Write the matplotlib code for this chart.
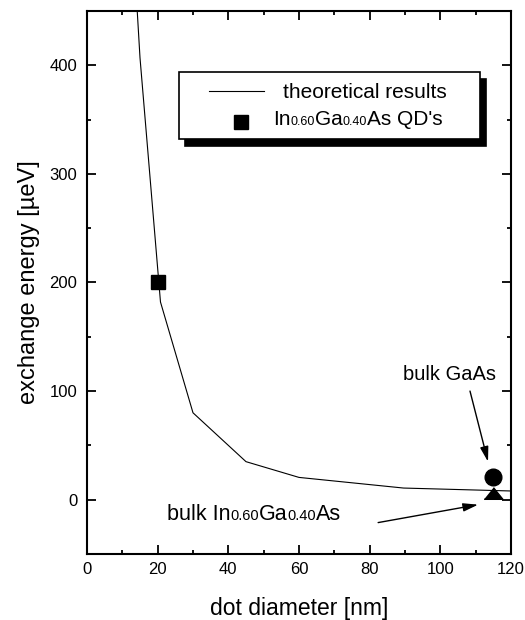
import matplotlib
matplotlib.use("Agg")
from matplotlib import pyplot as plt
from matplotlib.patches import Rectangle
from matplotlib.transforms import offset_copy

plt.rcParams['font.family'] = ['Liberation Sans', 'DejaVu Sans']

# theoretical curve (dot diameter in nm, exchange energy in ueV)
theory_d = [14, 15, 20.8, 30, 45, 60, 89.6, 120]
theory_e = [462, 407, 182, 80, 35, 20.5, 10.7, 8]

# measured In0.60Ga0.40As quantum dots
qd_d = [20]
qd_e = [200]

# bulk reference values
gaas_d = [115]
gaas_e = [20.8]
ingaas_d = [115]
ingaas_e = [6]

x_ticks = [0, 20, 40, 60, 80, 100, 120]
y_ticks = [0, 100, 200, 300, 400]


def rich_text(ax, x, y, parts, transform, zorder=7):
    """ Draw text pieces of different sizes side by side on one baseline. """
    fig = ax.figure
    renderer = fig.canvas.get_renderer()
    dx = 0
    for s, size in parts:
        t = ax.text(x, y, s, fontsize=size, ha='left', va='baseline', zorder=zorder,
                    transform=offset_copy(transform, fig=fig, x=dx, y=0, units='dots'))
        dx += t.get_window_extent(renderer).width


fig = plt.figure(figsize=(5.25, 6.2), dpi=100)
ax = fig.add_axes([0.1657, 0.1065, 0.8076, 0.8758])

ax.plot(theory_d, theory_e, color='black', lw=0.8, zorder=3)
ax.plot(qd_d, qd_e, 'ks', ms=10, zorder=4)
ax.plot(gaas_d, gaas_e, 'ko', ms=12, zorder=4)
ax.plot(ingaas_d, ingaas_e, color='black', ls='none', ms=13.5,
        marker=[(-1, -0.62), (1, -0.62), (0, 0.62)], zorder=4)

ax.set_xlim(0, 120)
ax.set_ylim(-50, 450)
ax.set_xticks(x_ticks)
ax.set_yticks(y_ticks)
ax.set_xticks(range(10, 120, 20), minor=True)
ax.set_yticks(range(-50, 451, 100), minor=True)
ax.tick_params(which='both', direction='in', top=True, right=True, width=1.3)
ax.tick_params(which='major', length=6.5, labelsize=12)
ax.tick_params(which='minor', length=3.2)
ax.tick_params(axis='x', pad=5.5)
ax.tick_params(axis='y', pad=7)
for sp in ax.spines.values():
    sp.set_linewidth(1.5)

ax.set_xlabel('dot diameter [nm]', fontsize=16.5)
ax.set_ylabel('exchange energy [\u00b5eV]', fontsize=17)
ax.xaxis.set_label_coords(0.501, -0.079)
ax.yaxis.set_label_coords(-0.11, 0.5)

# legend box with black drop shadow
shadow = Rectangle((0.217, 0.764), 0.71, 0.124, fc='black', ec='black', lw=1.2,
                   transform=offset_copy(ax.transAxes, fig=fig, x=6, y=-7, units='dots'),
                   zorder=5)
box = Rectangle((0.217, 0.764), 0.71, 0.124, fc='white', ec='black', lw=1.2,
                transform=ax.transAxes, zorder=6)
ax.add_patch(shadow)
ax.add_patch(box)
ax.plot([0.288, 0.417], [0.853, 0.853], color='black', lw=0.8,
        transform=ax.transAxes, zorder=7)
ax.plot([0.363], [0.796], 'ks', ms=10, transform=ax.transAxes, zorder=7)
ax.text(0.462, 0.840, 'theoretical results', fontsize=15, ha='left', va='baseline',
        transform=ax.transAxes, zorder=7)
rich_text(ax, 0.439, 0.790, [('In', 15), ('0.60', 9), ('Ga', 15), ('0.40', 9),
                             ('As QD\'s', 15)], ax.transAxes)

# annotations for bulk values
arrow = dict(arrowstyle='-|>, head_length=0.9, head_width=0.25', color='black',
             lw=1, mutation_scale=10, shrinkA=0, shrinkB=0)
ax.text(89.4, 110, 'bulk GaAs', fontsize=14.5, ha='left', va='baseline')
ax.annotate('', xy=(113.5, 35), xytext=(108.4, 100), arrowprops=arrow)
rich_text(ax, 22.6, -18.3, [('bulk In', 15.5), ('0.60', 10.5), ('Ga', 15.5), ('0.40', 10.5),
                            ('As', 15.5)], ax.transData)
ax.annotate('', xy=(110.7, -4.6), xytext=(82.4, -21.1), arrowprops=arrow)

fig.savefig('out.png', dpi=100)
